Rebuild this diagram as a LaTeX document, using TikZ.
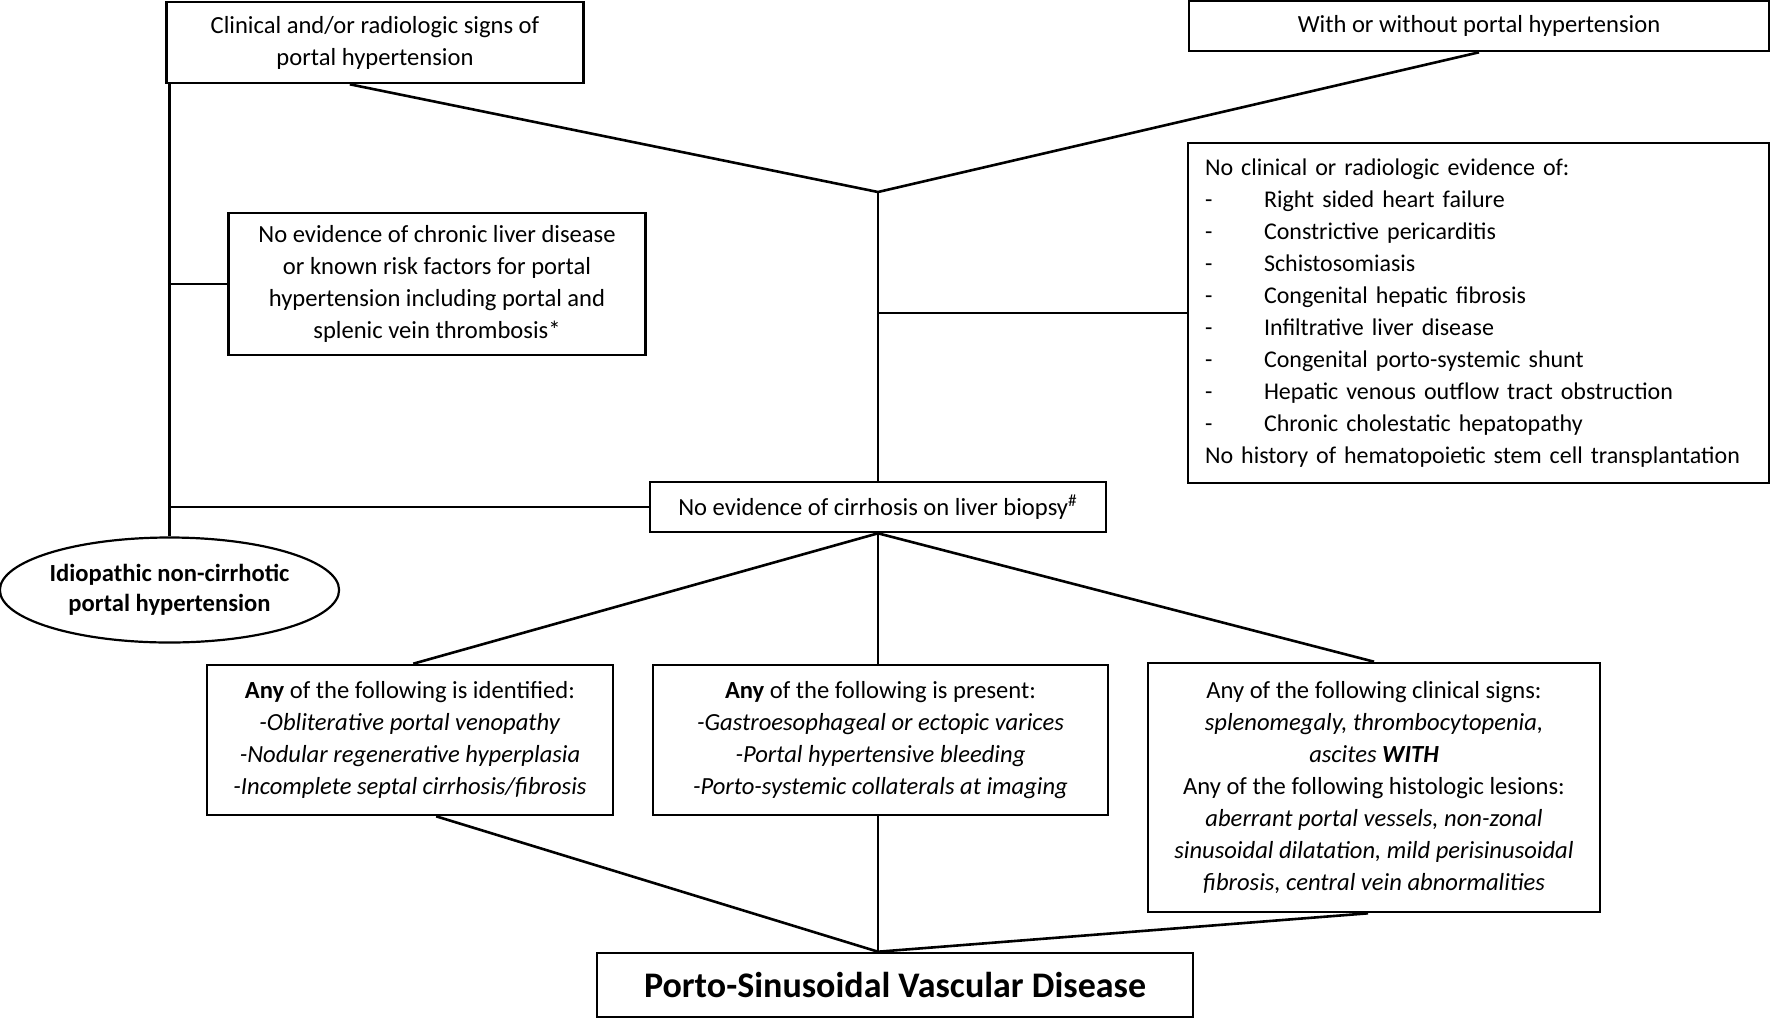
\documentclass[tikz,border=0pt]{standalone}
\usepackage{fontspec}
\setmainfont{Carlito}
\usetikzlibrary{shapes.geometric,calc}
\begin{document}
\begin{tikzpicture}[x=0.5pt,y=-0.5pt,
  every node/.style={font=\fontsize{12.3}{16}\selectfont, inner sep=0pt},
  box/.style={draw, line width=1.3pt, align=center},
  link/.style={line width=1.3pt}]
\useasboundingbox (0,0) rectangle (1772,1029);
% nodes
\node[box, minimum width=208.5pt, minimum height=40.5pt] (tl) at (375,42.5)
  {Clinical and/or radiologic signs of\\portal hypertension};
\node[box, minimum width=290pt, minimum height=25pt] (tr) at (1479,26)
  {With or without portal hypertension};
\node[box, minimum width=208.5pt, minimum height=71pt] (noev) at (437,284)
  {No evidence of chronic liver disease\\or known risk factors for portal\\hypertension including portal and\\splenic vein thrombosis*};
\node[box, align=left, text width=273.5pt, inner xsep=8.5pt, minimum height=170pt, font=\fontsize{12}{16}\selectfont] (nocl) at (1478.5,313)
  {No clinical or radiologic evidence of:\\
   \makebox[29.5pt][l]{-}Right sided heart failure\\
   \makebox[29.5pt][l]{-}Constrictive pericarditis\\
   \makebox[29.5pt][l]{-}Schistosomiasis\\
   \makebox[29.5pt][l]{-}Congenital hepatic fibrosis\\
   \makebox[29.5pt][l]{-}Infiltrative liver disease\\
   \makebox[29.5pt][l]{-}Congenital porto-systemic shunt\\
   \makebox[29.5pt][l]{-}Hepatic venous outflow tract obstruction\\
   \makebox[29.5pt][l]{-}Chronic cholestatic hepatopathy\\
   \mbox{No history of hematopoietic stem cell transplantation}};
\node[box, minimum width=228pt, minimum height=25pt] (cirr) at (878,507)
  {No evidence of cirrhosis on liver biopsy\textsuperscript{\#}};
\node[draw, line width=1.1pt, ellipse, minimum width=166.5pt, minimum height=52.5pt, align=center, font=\fontsize{12.3}{15}\selectfont\bfseries] (el) at (169.5,590)
  {Idiopathic non-cirrhotic\\portal hypertension};
\node[box, minimum width=203pt, minimum height=75pt] (bl) at (410,740)
  {\textbf{Any} of the following is identified:\\
   \textit{-Obliterative portal venopathy}\\
   \textit{-Nodular regenerative hyperplasia}\\
   \textit{-Incomplete septal cirrhosis/fibrosis}};
\node[box, minimum width=227.5pt, minimum height=75pt] (bm) at (880.5,740)
  {\textbf{Any} of the following is present:\\
   \textit{-Gastroesophageal or ectopic varices}\\
   \textit{-Portal hypertensive bleeding}\\
   \textit{-Porto-systemic collaterals at imaging}};
\node[box, minimum width=226pt, minimum height=124.5pt] (br) at (1374,787.5)
  {Any of the following clinical signs:\\
   \textit{splenomegaly, thrombocytopenia,}\\
   \textit{ascites \textbf{WITH}}\\
   Any of the following histologic lesions:\\
   \textit{aberrant portal vessels, non-zonal}\\
   \textit{sinusoidal dilatation, mild perisinusoidal}\\
   \textit{fibrosis, central vein abnormalities}};
\node[box, minimum width=298pt, minimum height=32pt, font=\fontsize{18}{20}\selectfont\bfseries] (fin) at (895,985)
  {Porto-Sinusoidal Vascular Disease};
% junction points
\coordinate (J) at (cirr.north |- 0,192);
\coordinate (F) at (cirr.south |- fin.north);
% connectors
\draw[link] ($(tl.south west)!0.44!(tl.south east)$) -- (J) -- (tr.south);
\draw[link] (J) -- (cirr.north);
\draw[link] (J |- nocl.west) -- (nocl.west);
\draw[link] (tl.south -| el.north) -- (el.north);
\draw[link] (noev.west -| el.north) -- (noev.west);
\draw[link] (cirr.west -| el.north) -- (cirr.west);
\draw[link] (cirr.south) -- ($(bl.north west)!0.508!(bl.north east)$);
\draw[link] (cirr.south) -- (cirr.south |- bm.north);
\draw[link] (cirr.south) -- (br.north);
\draw[link] ($(bl.south west)!0.564!(bl.south east)$) -- (F);
\draw[link] (cirr.south |- bm.south) -- (F);
\draw[link] ($(br.south west)!0.487!(br.south east)$) -- (F);
\end{tikzpicture}
\end{document}
